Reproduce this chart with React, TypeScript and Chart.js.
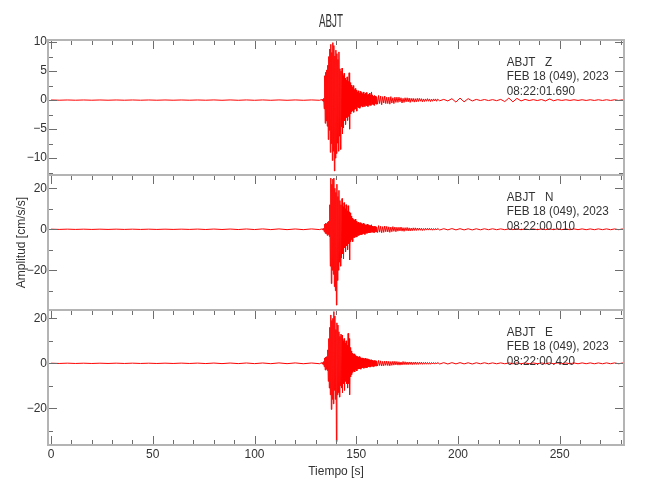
import React, { useEffect, useRef } from "react";
import { Chart, registerables } from "chart.js";

Chart.register(...registerables);

// ---------- text ----------
const TITLE = "ABJT";
const STATION = "ABJT";
const COMPONENTS = ["Z", "N", "E"];
const DATE_LABEL = "FEB 18 (049), 2023";
const START_TIMES = ["08:22:01.690", "08:22:00.010", "08:22:00.420"];
const X_LABEL = "Tiempo [s]";
const Y_LABEL = "Amplitud [cm/s/s]";

// ---------- ticks ----------
const X_TICKS = [0, 50, 100, 150, 200, 250];
const X_MINOR_TICKS = [0, 10, 20, 30, 40, 50, 60, 70, 80, 90, 100, 110, 120, 130, 140, 150, 160, 170, 180, 190, 200, 210, 220, 230, 240, 250, 260, 270, 280];
const Z_TICKS = [-10, -5, 0, 5, 10];
const Z_MINOR_TICKS = [-12.5, -7.5, -2.5, 2.5, 7.5];
const NE_TICKS = [-20, 0, 20];
const NE_MINOR_TICKS = [-30, -10, 10];

// ---------- axis ranges ----------
const X_MIN = -1.5;
const X_MAX = 281.6;
const Z_RANGE = [-12.9, 10.35];
const N_RANGE = [-39.4, 26.5];
const E_RANGE = [-36.3, 23.7];

// ---------- sampling of the traces (s) ----------
const PRE_START = 0;
const PRE_STEP = 4;
const EVT_START = 133;
const EVT_STEP = 0.25;
const MID_START = 160.5;
const MID_STEP = 0.5;
const TAIL_START = 191;
const TAIL_STEP = 2;

// ---------- Z component (cm/s/s) ----------
const Z_PRE = [
  0.02, -0.02, 0.02, -0.02, 0.02, -0.02, 0.02, -0.02, 0.02, -0.02,
  0.02, -0.02, 0.02, -0.02, 0.02, -0.02, 0.02, -0.02, 0.02, -0.02,
  0.03, -0.03, 0.03, -0.03, 0.03, -0.03, 0.03, -0.03, 0.03, -0.03,
  0.03, -0.03, 0.03, -0.03,
];
const Z_EVT = [
  0.1, -0.1, 0.15, -0.2, 0.3, -1.5, 4.2, -4.0,
  4.8, -3.6, 5.2, -4.5, 6.0, -6.8, 7.5, -5.2,
  8.8, -9.0, 9.6, -7.5, 8.2, -10.4, 9.9, -8.8,
  9.4, -12.2, 7.6, -10.0, 8.6, -9.2, 8.0, -7.4,
  7.0, -8.8, 8.3, -6.2, 5.4, -8.5, 5.0, -4.6,
  5.5, -5.8, 4.2, -4.8, 4.6, -3.6, 3.8, -4.2,
  3.4, -3.0, 4.0, -3.5, 3.2, -2.8, 4.7, -5.0,
  3.0, -2.4, 2.6, -2.0, 2.2, -1.8, 2.5, -2.1,
  1.8, -1.6, 2.0, -1.5, 1.7, -1.9, 1.4, -1.2,
  1.6, -1.3, 1.2, -1.4, 1.5, -1.1, 1.3, -1.0,
  1.1, -1.2, 1.4, -0.9, 1.0, -1.1, 1.2, -0.8,
  1.3, -1.0, 0.9, -1.1, 1.0, -0.8, 1.2, -0.9,
  0.8, -0.9, 1.4, -0.7, 0.9, -0.8, 0.7, -0.9,
  0.8, -0.6, 0.7, -0.7, 0.6,
];
const Z_MID = [
  -0.7, 0.8, -0.6, 0.7, -0.8, 0.6, -0.5, 0.7, -0.6, 0.5,
  -0.6, 0.5, -0.7, 0.6, -0.5, 0.4, -0.6, 0.5, -0.4, 0.5,
  -0.4, 0.5, -0.3, 0.4, -0.5, 0.3, -0.4, 0.4, -0.3, 0.4,
  -0.3, 0.35, -0.4, 0.3, -0.25, 0.3, -0.35, 0.25, -0.3, 0.3,
  -0.25, 0.3, -0.2, 0.25, -0.3, 0.2, -0.25, 0.2, -0.2, 0.25,
  -0.2, 0.2, -0.25, 0.15, -0.2, 0.2, -0.15, 0.2, -0.2, 0.15,
];
const Z_TAIL = [
  -0.12, 0.12, -0.15, 0.25, -0.35,
  0.35, -0.3, 0.25, -0.15, 0.12,
  -0.08, 0.1, -0.08, 0.08, -0.1,
  0.12, -0.25, 0.35, -0.3, 0.3,
  -0.15, 0.12, -0.08, 0.08, -0.08,
  0.1, -0.15, 0.2, -0.12, 0.08,
  -0.06, 0.06, -0.06, 0.06, -0.06,
  0.06, -0.06, 0.06, -0.06, 0.06,
  -0.06, 0.06, -0.06, 0.06, -0.06,
  0.06,
];

// ---------- N component (cm/s/s) ----------
const N_PRE = [
  0.06, -0.06, 0.07, -0.06, 0.06, -0.07, 0.06, -0.06, 0.07, -0.06,
  0.06, -0.07, 0.06, -0.07, 0.06, -0.06, 0.07, -0.06, 0.1, -0.1,
  0.12, -0.1, 0.12, -0.12, 0.15, -0.12, 0.18, -0.15, 0.18, -0.18,
  0.15, -0.18, 0.18, -0.15,
];
const N_EVT = [
  0.2, -0.2, 0.3, -0.3, 0.5, -1.2, 2.5, -2.0,
  3.0, -2.2, 2.8, -3.0, 3.5, -2.5, 4.0, -3.5,
  12.0, -18.0, 25.0, -26.5, 22.0, -20.0, 24.5, -22.0,
  25.0, -28.0, 20.0, -30.0, 18.0, -37.0, 22.0, -25.0,
  16.0, -20.0, 19.0, -16.0, 14.0, -18.0, 12.0, -14.0,
  15.0, -12.0, 11.0, -14.5, 13.0, -9.0, 10.0, -11.0,
  12.0, -8.0, 9.0, -10.0, 11.5, -7.0, 8.5, -15.0,
  8.0, -6.0, 6.5, -5.0, 5.5, -6.0, 4.8, -4.0,
  4.5, -4.0, 5.0, -3.5, 4.0, -3.8, 3.2, -3.0,
  3.5, -3.0, 3.0, -2.8, 3.2, -2.5, 2.8, -2.6,
  2.6, -2.2, 3.0, -2.0, 2.4, -2.5, 2.0, -1.8,
  2.2, -2.0, 2.5, -1.6, 2.0, -1.8, 1.8, -1.6,
  1.8, -1.5, 2.2, -1.4, 1.6, -1.5, 1.4, -1.6,
  1.5, -1.2, 1.4, -1.3, 1.2,
];
const N_MID = [
  -1.6, 1.8, -1.4, 1.5, -1.7, 1.3, -1.5, 1.6, -1.2, 1.4,
  -1.3, 1.2, -1.5, 1.1, -1.2, 1.3, -1.0, 1.1, -1.2, 1.0,
  -0.9, 1.0, -0.8, 1.1, -0.9, 0.8, -1.0, 0.8, -0.7, 0.9,
  -0.8, 0.7, -0.8, 0.6, -0.7, 0.7, -0.6, 0.7, -0.6, 0.6,
  -0.5, 0.6, -0.5, 0.5, -0.6, 0.4, -0.5, 0.5, -0.4, 0.5,
  -0.4, 0.5, -0.4, 0.4, -0.45, 0.35, -0.4, 0.4, -0.35, 0.4,
];
const N_TAIL = [
  -0.35, 0.3, -0.3, 0.35, -0.3,
  0.3, -0.3, 0.25, -0.3, 0.25,
  -0.25, 0.25, -0.2, 0.25, -0.2,
  0.2, -0.2, 0.2, -0.18, 0.2,
  -0.2, 0.2, -0.18, 0.2, -0.2,
  0.18, -0.2, 0.2, -0.18, 0.2,
  -0.2, 0.18, -0.2, 0.2, -0.18,
  0.2, -0.2, 0.18, -0.2, 0.2,
  -0.18, 0.2, -0.2, 0.18, -0.2,
  0.2,
];

// ---------- E component (cm/s/s) ----------
const E_PRE = [
  0.06, -0.06, 0.07, -0.06, 0.06, -0.07, 0.06, -0.06, 0.07, -0.06,
  0.07, -0.06, 0.06, -0.07, 0.07, -0.06, 0.09, -0.07, 0.1, -0.1,
  0.12, -0.12, 0.13, -0.12, 0.15, -0.13, 0.15, -0.15, 0.18, -0.15,
  0.18, -0.18, 0.15, -0.18,
];
const E_EVT = [
  0.3, -0.3, 0.4, -0.5, 0.8, -1.5, 2.4, -3.0,
  2.8, -2.6, 3.0, -3.2, 6.0, -8.0, 11.0, -11.0,
  16.0, -14.0, 21.5, -20.5, 19.0, -16.0, 20.0, -18.0,
  23.0, -12.0, 21.0, -16.0, 15.0, -34.8, 18.0, -14.0,
  17.0, -13.0, 14.0, -15.0, 12.0, -10.0, 13.0, -11.0,
  12.5, -13.0, 10.0, -9.0, 11.0, -12.0, 9.0, -8.0,
  10.0, -9.0, 8.0, -11.0, 13.3, -9.0, 11.0, -14.0,
  7.0, -6.0, 5.5, -5.0, 4.5, -4.0, 4.0, -3.5,
  4.2, -3.8, 3.5, -3.0, 3.2, -3.4, 3.0, -2.6,
  2.8, -2.5, 3.0, -2.4, 2.5, -2.6, 2.2, -2.0,
  2.4, -2.0, 2.2, -2.2, 2.0, -1.8, 2.3, -1.9,
  1.8, -2.0, 2.0, -1.6, 1.7, -1.5, 1.6, -1.7,
  1.5, -1.4, 1.6, -1.3, 1.4, -1.5, 1.2, -1.3,
  1.3, -1.1, 1.2, -1.2, 1.1,
];
const E_MID = [
  -1.2, 1.3, -1.0, 1.1, -1.2, 0.9, -1.1, 1.0, -0.9, 1.0,
  -1.0, 0.9, -1.1, 0.8, -0.9, 0.9, -0.8, 0.9, -0.7, 0.8,
  -0.8, 0.7, -0.8, 0.6, -0.7, 0.8, -0.6, 0.7, -0.6, 0.6,
  -0.6, 0.6, -0.5, 0.6, -0.6, 0.5, -0.5, 0.6, -0.5, 0.5,
  -0.5, 0.5, -0.4, 0.5, -0.45, 0.4, -0.4, 0.45, -0.4, 0.4,
  -0.4, 0.35, -0.4, 0.35, -0.3, 0.35, -0.35, 0.3, -0.3, 0.35,
];
const E_TAIL = [
  -0.3, 0.3, -0.3, 0.3, -0.25,
  0.3, -0.25, 0.25, -0.3, 0.25,
  -0.2, 0.25, -0.2, 0.2, -0.2,
  0.2, -0.2, 0.18, -0.2, 0.2,
  -0.2, 0.18, -0.2, 0.2, -0.18,
  0.2, -0.2, 0.18, -0.2, 0.2,
  -0.18, 0.2, -0.2, 0.18, -0.2,
  0.2, -0.18, 0.2, -0.2, 0.18,
  -0.2, 0.2, -0.18, 0.2, -0.2,
  0.18,
];

// annotation anchor (time, s)
const ANNOT_T = 224;

// ---------- styles ----------
const FONT = '"Liberation Sans", Arial, sans-serif';
const TEXT_COLOR = "#333";
const FRAME_COLOR = "#b4b4b4";
const TICK_COLOR = "#6e6e6e";
const TRACE_COLOR = "#ff0000";

type Pt = { x: number; y: number };
function toPoints(pre: number[], evt: number[], mid: number[], tail: number[]): Pt[] {
  const pts: Pt[] = [];
  pre.forEach((v, i) => pts.push({ x: PRE_START + i * PRE_STEP, y: v }));
  evt.forEach((v, i) => pts.push({ x: EVT_START + i * EVT_STEP, y: v }));
  mid.forEach((v, i) => pts.push({ x: MID_START + i * MID_STEP, y: v }));
  tail.forEach((v, i) => pts.push({ x: TAIL_START + i * TAIL_STEP, y: v }));
  return pts;
}

const fmt = (v: number) => (v < 0 ? "\u2212" + Math.abs(v) : String(v));

function yScale(range: number[], ticks: number[], withTitle: boolean) {
  return {
    type: "linear",
    position: "left",
    stack: "panels",
    stackWeight: 1,
    min: range[0],
    max: range[1],
    grid: { display: false, drawTicks: false },
    border: { display: false },
    ticks: {
      font: { family: FONT, size: 12 },
      color: TEXT_COLOR,
      padding: 1,
      callback: (v: number) => fmt(v),
    },
    afterBuildTicks: (s: any) => {
      s.ticks = ticks.map((v) => ({ value: v }));
    },
    afterFit: (s: any) => {
      s.width = 48;
    },
    title: withTitle
      ? {
          display: true,
          text: Y_LABEL,
          font: { family: FONT, size: 12 },
          color: TEXT_COLOR,
          padding: { top: 14, bottom: 0 },
        }
      : { display: false },
  };
}

const framePlugin = {
  id: "seismoFrame",
  afterDatasetsDraw(chart: any) {
    const { ctx, chartArea } = chart;
    const xs = chart.scales.x;
    const ids = ["yZ", "yN", "yE"];
    const left = chartArea.left;
    const right = chartArea.right;
    ctx.save();
    ids.forEach((id, p) => {
      const s = chart.scales[id];
      const top = s.top;
      const bottom = s.bottom;
      const major = p === 0 ? Z_TICKS : NE_TICKS;
      const minor = p === 0 ? Z_MINOR_TICKS : NE_MINOR_TICKS;
      ctx.strokeStyle = TICK_COLOR;
      ctx.lineWidth = 1;
      ctx.beginPath();
      const yTick = (v: number, len: number) => {
        const y = Math.round(s.getPixelForValue(v)) + 0.5;
        ctx.moveTo(left, y);
        ctx.lineTo(left + len, y);
        ctx.moveTo(right, y);
        ctx.lineTo(right - len, y);
      };
      major.forEach((v) => yTick(v, 9));
      minor.forEach((v) => yTick(v, 5));
      X_MINOR_TICKS.forEach((v) => {
        const len = X_TICKS.includes(v) ? 9 : 5;
        const x = Math.round(xs.getPixelForValue(v)) + 0.5;
        ctx.moveTo(x, top);
        ctx.lineTo(x, top + len);
        if (p === ids.length - 1) {
          ctx.moveTo(x, bottom);
          ctx.lineTo(x, bottom - len);
        }
      });
      ctx.stroke();

      ctx.strokeStyle = FRAME_COLOR;
      ctx.lineWidth = 2;
      ctx.strokeRect(left, top, right - left, bottom - top);

      // annotation
      ctx.fillStyle = TEXT_COLOR;
      ctx.font = `13px ${FONT}`;
      ctx.textAlign = "left";
      ctx.textBaseline = "alphabetic";
      const w = ctx.measureText(DATE_LABEL).width;
      const sx = 102 / w;
      const ax = xs.getPixelForValue(ANNOT_T);
      const lines = [`${STATION}   ${COMPONENTS[p]}`, DATE_LABEL, START_TIMES[p]];
      const offs = [26, 40.3, 54.5];
      lines.forEach((t, i) => {
        ctx.save();
        ctx.translate(ax, top + offs[i]);
        ctx.scale(sx, 1);
        ctx.fillText(t, 0, 0);
        ctx.restore();
      });
    });

    // title
    ctx.font = `19px ${FONT}`;
    ctx.fillStyle = TEXT_COLOR;
    ctx.textAlign = "center";
    ctx.textBaseline = "alphabetic";
    const tw = ctx.measureText(TITLE).width;
    ctx.translate((left + right) / 2 - 5, 27);
    ctx.scale(24 / tw, 1);
    ctx.fillText(TITLE, 0, 0);
    ctx.restore();
  },
};

export default function App() {
  const ref = useRef<HTMLCanvasElement | null>(null);
  useEffect(() => {
    if (!ref.current) return;
    const trace = (data: Pt[], yAxisID: string) => ({
      data,
      yAxisID,
      xAxisID: "x",
      borderColor: TRACE_COLOR,
      borderWidth: 1,
      pointRadius: 0,
      tension: 0,
      fill: false,
    });
    const chart = new Chart(ref.current, {
      type: "line",
      data: {
        datasets: [
          trace(toPoints(Z_PRE, Z_EVT, Z_MID, Z_TAIL), "yZ"),
          trace(toPoints(N_PRE, N_EVT, N_MID, N_TAIL), "yN"),
          trace(toPoints(E_PRE, E_EVT, E_MID, E_TAIL), "yE"),
        ],
      },
      options: {
        animation: false,
        responsive: false,
        devicePixelRatio: 1,
        layout: { padding: { left: 0, top: 40, right: 26, bottom: 0 } },
        plugins: { legend: { display: false }, tooltip: { enabled: false }, title: { display: false } },
        scales: {
          x: {
            type: "linear",
            position: "bottom",
            min: X_MIN,
            max: X_MAX,
            grid: { display: false, drawTicks: false },
            border: { display: false },
            ticks: {
              font: { family: FONT, size: 12 },
              color: TEXT_COLOR,
              padding: 2,
              maxRotation: 0,
              autoSkip: false,
              callback: (v: number) => fmt(v),
            },
            afterBuildTicks: (s: any) => {
              s.ticks = X_TICKS.map((v) => ({ value: v }));
            },
            afterFit: (s: any) => {
              s.height = 55;
            },
            title: {
              display: true,
              text: X_LABEL,
              font: { family: FONT, size: 12 },
              color: TEXT_COLOR,
              padding: { top: 0, bottom: 21 },
            },
          },
          // left stacked scales are laid out in reverse order: bottom panel first
          yE: yScale(E_RANGE, NE_TICKS, false),
          yN: yScale(N_RANGE, NE_TICKS, true),
          yZ: yScale(Z_RANGE, Z_TICKS, false),
        } as any,
      },
      plugins: [framePlugin],
    } as any);
    return () => chart.destroy();
  }, []);
  return (
    <div style={{ position: "absolute", left: 0, top: 0, width: 650, height: 500, background: "#fff" }}>
      <canvas ref={ref} width={650} height={500} style={{ display: "block" }} />
    </div>
  );
}
